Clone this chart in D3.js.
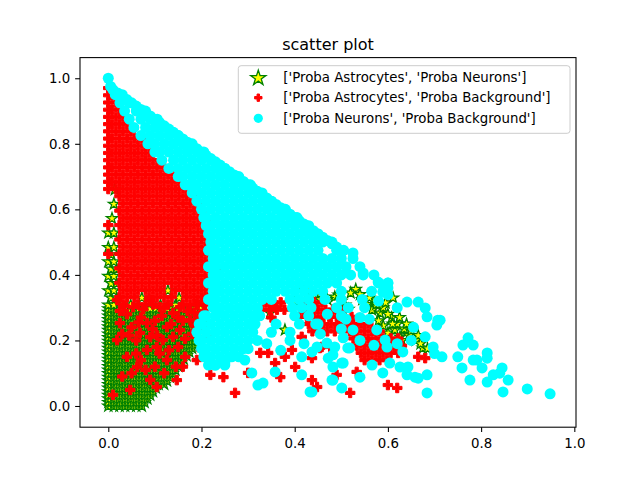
<!DOCTYPE html>
<html lang="en">
<head>
  <meta charset="UTF-8">
  <title>scatter plot</title>
  <script src="https://d3js.org/d3.v7.min.js"></script>
  <style>
    body { margin: 0; background: #fff; }
    text { font-family: "DejaVu Sans", sans-serif; }
  </style>
</head>
<body>
  <div id="chart"></div>

  <script>
    const seriesNames = [
      "['Proba Astrocytes', 'Proba Neurons']",
      "['Proba Astrocytes', 'Proba Background']",
      "['Proba Neurons', 'Proba Background']"
    ];
    const xTicks = [0, 0.2, 0.4, 0.6, 0.8, 1.0];
    const yTicks = [0, 0.2, 0.4, 0.6, 0.8, 1.0];

    // dense parts read row by row: [y, [x, x, ...]]
    const astroNeuronRows = [
      [0, [0, 0.012, 0.024, 0.036, 0.048, 0.06, 0.072]],
      [0.011, [0, 0.006, 0.018, 0.03, 0.042, 0.054, 0.066, 0.078]],
      [0.022, [0, 0.012, 0.024, 0.036, 0.048, 0.06, 0.072, 0.084]],
      [0.033, [0, 0.006, 0.018, 0.03, 0.042, 0.054, 0.066, 0.078, 0.09]],
      [0.044, [0, 0.012, 0.024, 0.036, 0.048, 0.06, 0.072, 0.084, 0.096]],
      [0.055, [0, 0.006, 0.018, 0.03, 0.042, 0.054, 0.066, 0.078, 0.09, 0.102]],
      [0.066, [0, 0.012, 0.024, 0.036, 0.048, 0.06, 0.072, 0.084, 0.096, 0.108, 0.12]],
      [0.077, [0, 0.006, 0.018, 0.03, 0.042, 0.054, 0.066, 0.078, 0.09, 0.102, 0.114, 0.126]],
      [0.088, [0, 0.012, 0.024, 0.036, 0.048, 0.06, 0.072, 0.084, 0.096, 0.108, 0.12, 0.132]],
      [0.099, [0, 0.006, 0.018, 0.03, 0.042, 0.054, 0.066, 0.078, 0.09, 0.102, 0.114, 0.126, 0.138]],
      [0.11, [0, 0.012, 0.024, 0.036, 0.048, 0.06, 0.072, 0.084, 0.096, 0.108, 0.12, 0.132, 0.144]],
      [0.121, [0, 0.006, 0.018, 0.03, 0.042, 0.054, 0.066, 0.078, 0.09, 0.102, 0.114, 0.126, 0.138, 0.15]],
      [0.132, [0, 0.012, 0.024, 0.036, 0.048, 0.06, 0.072, 0.084, 0.096, 0.108, 0.12, 0.132, 0.144, 0.156]],
      [0.143, [0, 0.006, 0.018, 0.03, 0.042, 0.054, 0.066, 0.078, 0.09, 0.102, 0.114, 0.126, 0.138, 0.15, 0.162]],
      [0.154, [0, 0.012, 0.024, 0.036, 0.048, 0.06, 0.072, 0.084, 0.096, 0.108, 0.12, 0.132, 0.144, 0.156, 0.168]],
      [0.165, [0, 0.006, 0.018, 0.03, 0.042, 0.054, 0.066, 0.078, 0.09, 0.102, 0.114, 0.126, 0.138, 0.15, 0.162, 0.174]],
      [0.176, [0, 0.012, 0.024, 0.036, 0.048, 0.06, 0.072, 0.084, 0.096, 0.108, 0.12, 0.132, 0.144, 0.156, 0.168, 0.18]],
      [0.187, [0, 0.006, 0.018, 0.03, 0.042, 0.054, 0.066, 0.078, 0.09, 0.102, 0.114, 0.126, 0.138, 0.15, 0.162, 0.174, 0.186]],
      [0.198, [0, 0.012, 0.024, 0.036, 0.048, 0.06, 0.072, 0.084, 0.096, 0.108, 0.12, 0.132, 0.144, 0.156, 0.168, 0.18, 0.192]],
      [0.209, [0, 0.006, 0.018, 0.03, 0.042, 0.054, 0.066, 0.078, 0.09, 0.102, 0.114, 0.126, 0.138, 0.15, 0.162, 0.174, 0.186]],
      [0.22, [0, 0.012, 0.024, 0.036, 0.048, 0.06, 0.072, 0.084, 0.096, 0.108, 0.12, 0.132, 0.144, 0.156, 0.168, 0.18, 0.192]],
      [0.231, [0, 0.006, 0.018, 0.03, 0.042, 0.054, 0.066, 0.078, 0.09, 0.102, 0.114, 0.126, 0.138, 0.15, 0.162, 0.174, 0.186, 0.198]],
      [0.242, [0, 0.012, 0.024, 0.036, 0.048, 0.06, 0.072, 0.084, 0.096, 0.108, 0.12, 0.132, 0.144, 0.156, 0.168, 0.18, 0.192]],
      [0.253, [0, 0.006, 0.018, 0.03, 0.042, 0.054, 0.066, 0.078, 0.09, 0.102, 0.114, 0.126, 0.138, 0.15, 0.162, 0.174, 0.186, 0.198]],
      [0.264, [0, 0.012, 0.024, 0.036, 0.048, 0.06, 0.072, 0.084, 0.096, 0.108, 0.12, 0.132, 0.144, 0.156, 0.168, 0.18, 0.192]],
      [0.275, [0, 0.006, 0.018, 0.03, 0.042, 0.054, 0.066, 0.078, 0.09, 0.102, 0.114, 0.126, 0.138, 0.15, 0.162, 0.174, 0.186, 0.198]],
      [0.286, [0, 0.012, 0.024, 0.036, 0.048, 0.06, 0.072, 0.084, 0.096, 0.108, 0.12, 0.132, 0.144, 0.156, 0.168, 0.18, 0.192]],
      [0.297, [0, 0.006, 0.018, 0.03, 0.042, 0.054, 0.066, 0.078, 0.09, 0.102, 0.114, 0.126, 0.138, 0.15, 0.162, 0.174, 0.186, 0.198]],
      [0.308, [0, 0.012, 0.048, 0.112, 0.144]],
      [0.33, [0.006, 0.018, 0.072, 0.152]],
      [0.352, [0, 0.012, 0.128]],
      [0.374, [0.006, 0.018]],
      [0.396, [0, 0.012]],
      [0.418, [0.006, 0.018]],
      [0.44, [0, 0.012]],
      [0.462, [0.006]],
      [0.484, [0, 0.012]],
      [0.528, [0, 0.012]],
      [0.572, [0.008]],
      [0.616, [0.012]],
      [0.66, [0.014]]
    ];
    const astroNeuronPoints = [
      [0.531, 0.356], [0.568, 0.299], [0.608, 0.269], [0.611, 0.33], [0.626, 0.211],
      [0.675, 0.177], [0.508, 0.308], [0.6, 0.223], [0.44, 0.339], [0.486, 0.333],
      [0.566, 0.293], [0.583, 0.284], [0.615, 0.232], [0.494, 0.339], [0.379, 0.232],
      [0.347, 0.284], [0.555, 0.31], [0.59, 0.3], [0.62, 0.25], [0.635, 0.235],
      [0.645, 0.215], [0.66, 0.2], [0.59, 0.245], [0.57, 0.32], [0.545, 0.325],
      [0.455, 0.345], [0.47, 0.325], [0.415, 0.36], [0.214, 0.333], [0.202, 0.317],
      [0.23, 0.36], [0.22, 0.39],
      [0.52, 0.345], [0.54, 0.34], [0.56, 0.33], [0.575, 0.31], [0.595, 0.315],
      [0.6, 0.28], [0.625, 0.27], [0.64, 0.25], [0.65, 0.23], [0.665, 0.215],
      [0.67, 0.19], [0.685, 0.175], [0.61, 0.25], [0.58, 0.26], [0.63, 0.2],
      [0.5, 0.32], [0.515, 0.295], [0.455, 0.325], [0.43, 0.35], [0.4, 0.32]
    ];

    const astroBackRows = [
      [0.97, [0]],
      [0.948, [0, 0.008]],
      [0.926, [0, 0.016]],
      [0.904, [0, 0.008, 0.024]],
      [0.882, [0, 0.016, 0.032]],
      [0.86, [0, 0.008, 0.024, 0.04]],
      [0.838, [0, 0.016, 0.032, 0.048]],
      [0.816, [0, 0.008, 0.024, 0.04, 0.056, 0.072]],
      [0.794, [0, 0.016, 0.032, 0.048, 0.064, 0.08]],
      [0.772, [0, 0.008, 0.024, 0.04, 0.056, 0.072, 0.088]],
      [0.75, [0, 0.016, 0.032, 0.048, 0.064, 0.08, 0.096, 0.112]],
      [0.728, [0, 0.008, 0.024, 0.04, 0.056, 0.072, 0.088, 0.104, 0.12]],
      [0.706, [0, 0.016, 0.032, 0.048, 0.064, 0.08, 0.096, 0.112, 0.128, 0.144]],
      [0.684, [0, 0.008, 0.024, 0.04, 0.056, 0.072, 0.088, 0.104, 0.12, 0.136, 0.152]],
      [0.662, [0, 0.016, 0.032, 0.048, 0.064, 0.08, 0.096, 0.112, 0.128, 0.144, 0.16]],
      [0.64, [0.024, 0.04, 0.056, 0.072, 0.088, 0.104, 0.12, 0.136, 0.152, 0.168, 0.184]],
      [0.618, [0.032, 0.048, 0.064, 0.08, 0.096, 0.112, 0.128, 0.144, 0.16, 0.176, 0.192]],
      [0.596, [0.024, 0.04, 0.056, 0.072, 0.088, 0.104, 0.12, 0.136, 0.152, 0.168, 0.184, 0.2]],
      [0.574, [0.032, 0.048, 0.064, 0.08, 0.096, 0.112, 0.128, 0.144, 0.16, 0.176, 0.192, 0.208]],
      [0.552, [0, 0.024, 0.04, 0.056, 0.072, 0.088, 0.104, 0.12, 0.136, 0.152, 0.168, 0.184, 0.2, 0.216]],
      [0.53, [0.032, 0.048, 0.064, 0.08, 0.096, 0.112, 0.128, 0.144, 0.16, 0.176, 0.192, 0.208]],
      [0.508, [0.024, 0.04, 0.056, 0.072, 0.088, 0.104, 0.12, 0.136, 0.152, 0.168, 0.184, 0.2, 0.216]],
      [0.486, [0.032, 0.048, 0.064, 0.08, 0.096, 0.112, 0.128, 0.144, 0.16, 0.176, 0.192, 0.208, 0.224]],
      [0.464, [0, 0.024, 0.04, 0.056, 0.072, 0.088, 0.104, 0.12, 0.136, 0.152, 0.168, 0.184, 0.2, 0.216]],
      [0.442, [0.032, 0.048, 0.064, 0.08, 0.096, 0.112, 0.128, 0.144, 0.16, 0.176, 0.192, 0.208, 0.224]],
      [0.42, [0.024, 0.04, 0.056, 0.072, 0.088, 0.104, 0.12, 0.136, 0.152, 0.168, 0.184, 0.2, 0.216, 0.232]],
      [0.398, [0.032, 0.048, 0.064, 0.08, 0.096, 0.112, 0.128, 0.144, 0.16, 0.176, 0.192, 0.208, 0.224]],
      [0.376, [0.024, 0.04, 0.056, 0.072, 0.088, 0.104, 0.12, 0.136, 0.152, 0.168, 0.184, 0.2, 0.216]],
      [0.354, [0.032, 0.048, 0.064, 0.08, 0.096, 0.112, 0.144, 0.16, 0.176, 0.192, 0.208, 0.224]],
      [0.332, [0.024, 0.04, 0.056, 0.088, 0.104, 0.12, 0.136, 0.168, 0.184, 0.2, 0.216]],
      [0.31, [0.032, 0.064, 0.08, 0.096, 0.128, 0.16, 0.176, 0.192, 0.208]],
      [0.316, [0.338, 0.354, 0.37, 0.426, 0.442, 0.458]],
      [0.294, [0.33, 0.346, 0.362, 0.378, 0.418, 0.434, 0.45, 0.466, 0.482, 0.498]],
      [0.272, [0.41, 0.426, 0.442, 0.458, 0.474, 0.49, 0.506, 0.522]],
      [0.25, [0.43, 0.446, 0.462, 0.478, 0.494, 0.51, 0.526, 0.542, 0.558]],
      [0.228, [0.438, 0.454, 0.47, 0.486, 0.502, 0.518, 0.534, 0.55, 0.566, 0.582]],
      [0.206, [0.526, 0.542, 0.558, 0.574, 0.59, 0.606, 0.622]],
      [0.184, [0.534, 0.55, 0.566, 0.582, 0.598, 0.614, 0.63]],
      [0.162, [0.542, 0.558, 0.574, 0.59, 0.606, 0.622]],
      [0.14, [0.55, 0.566, 0.582, 0.598]]
    ];
    const astroBackPoints = [
      [0.019, 0.323], [0.025, 0.253], [0.019, 0.201], [0.04, 0.15], [0.047, 0.049],
      [0.083, 0.253], [0.111, 0.302], [0.117, 0.201], [0.139, 0.211], [0.154, 0.302],
      [0.104, 0.18], [0.126, 0.14], [0.104, 0.058], [0.062, 0.119], [0.147, 0.079],
      [0.053, 0.302], [0.089, 0.323], [0.068, 0.223], [0.083, 0.171], [0.126, 0.241],
      [0.154, 0.232], [0.176, 0.262], [0.197, 0.272], [0.212, 0.211], [0.01, 0.034],
      [0.139, 0.284], [0.04, 0.28], [0.07, 0.27], [0.1, 0.26], [0.17, 0.29],
      [0.19, 0.31], [0.06, 0.2], [0.09, 0.21], [0.15, 0.18], [0.165, 0.15],
      [0.12, 0.1], [0.08, 0.11], [0.03, 0.09], [0.06, 0.16], [0.18, 0.22],
      [0.2, 0.24], [0.11, 0.16], [0.145, 0.12],
      [0.03, 0.22], [0.05, 0.24], [0.095, 0.235], [0.115, 0.275], [0.16, 0.26],
      [0.185, 0.285], [0.135, 0.25], [0.065, 0.255], [0.035, 0.305], [0.075, 0.295],
      [0.165, 0.205], [0.185, 0.245], [0.205, 0.29], [0.045, 0.215], [0.105, 0.215],
      [0.025, 0.29], [0.12, 0.3], [0.15, 0.27], [0.07, 0.14], [0.1, 0.12],
      [0.13, 0.17], [0.16, 0.12], [0.05, 0.1], [0.09, 0.08],
      [0.219, 0.095], [0.247, 0.088], [0.272, 0.04], [0.3, 0.101], [0.369, 0.088],
      [0.358, 0.131], [0.379, 0.15], [0.401, 0.119], [0.394, 0.171], [0.437, 0.146],
      [0.437, 0.079], [0.448, 0.058], [0.49, 0.095], [0.519, 0.04], [0.458, 0.18],
      [0.415, 0.211], [0.343, 0.162], [0.326, 0.162], [0.533, 0.104], [0.6, 0.064],
      [0.62, 0.055], [0.665, 0.15], [0.68, 0.146], [0.454, 0.177], [0.476, 0.18],
      [0.19, 0.14], [0.2, 0.17], [0.23, 0.3], [0.35, 0.27], [0.36, 0.3]
    ];

    const neuronBackRows = [
      [1.0, [0]],
      [0.975, [0.005]],
      [0.95, [0.015, 0.03]],
      [0.925, [0.025, 0.045]],
      [0.9, [0.035, 0.06, 0.08]],
      [0.875, [0.045, 0.07, 0.09, 0.105]],
      [0.85, [0.055, 0.08, 0.1, 0.12]],
      [0.825, [0.07, 0.09, 0.11, 0.13, 0.15]],
      [0.8, [0.085, 0.1, 0.12, 0.14, 0.16, 0.18]],
      [0.775, [0.1, 0.11, 0.13, 0.15, 0.17, 0.19, 0.205]],
      [0.75, [0.115, 0.14, 0.16, 0.18, 0.2, 0.22]],
      [0.725, [0.13, 0.15, 0.17, 0.19, 0.21, 0.23, 0.25]],
      [0.7, [0.15, 0.16, 0.18, 0.2, 0.22, 0.24, 0.26, 0.28]],
      [0.675, [0.165, 0.175, 0.19, 0.21, 0.23, 0.25, 0.27, 0.29, 0.305]],
      [0.65, [0.18, 0.2, 0.22, 0.24, 0.26, 0.28, 0.3, 0.32, 0.33]],
      [0.625, [0.19, 0.21, 0.23, 0.25, 0.27, 0.29, 0.31, 0.33, 0.35]],
      [0.6, [0.2, 0.22, 0.24, 0.26, 0.28, 0.3, 0.32, 0.34, 0.36, 0.38]],
      [0.575, [0.205, 0.21, 0.23, 0.25, 0.27, 0.29, 0.31, 0.33, 0.35, 0.37, 0.39, 0.405]],
      [0.55, [0.21, 0.22, 0.24, 0.26, 0.28, 0.3, 0.32, 0.34, 0.36, 0.38, 0.4, 0.42, 0.43]],
      [0.525, [0.215, 0.23, 0.25, 0.27, 0.29, 0.31, 0.33, 0.35, 0.37, 0.39, 0.41, 0.43, 0.45]],
      [0.5, [0.22, 0.24, 0.26, 0.28, 0.3, 0.32, 0.34, 0.36, 0.38, 0.4, 0.42, 0.44, 0.46, 0.48]],
      [0.475, [0.215, 0.23, 0.25, 0.27, 0.29, 0.31, 0.33, 0.35, 0.37, 0.39, 0.41, 0.43, 0.45, 0.49, 0.505]],
      [0.45, [0.225, 0.24, 0.26, 0.28, 0.3, 0.32, 0.34, 0.36, 0.38, 0.4, 0.42, 0.44, 0.46, 0.48, 0.5, 0.525]],
      [0.425, [0.215, 0.23, 0.25, 0.27, 0.29, 0.31, 0.33, 0.35, 0.37, 0.39, 0.41, 0.43, 0.45, 0.47, 0.49, 0.51, 0.54]],
      [0.4, [0.225, 0.24, 0.26, 0.28, 0.3, 0.32, 0.34, 0.36, 0.38, 0.4, 0.42, 0.44, 0.46, 0.48, 0.5, 0.52, 0.547, 0.57]],
      [0.375, [0.215, 0.23, 0.25, 0.27, 0.29, 0.31, 0.33, 0.35, 0.37, 0.39, 0.41, 0.43, 0.45, 0.47, 0.49, 0.58, 0.6]],
      [0.35, [0.225, 0.24, 0.26, 0.28, 0.3, 0.32, 0.34, 0.36, 0.38, 0.4, 0.42, 0.44, 0.46, 0.5, 0.59]],
      [0.325, [0.215, 0.23, 0.25, 0.27, 0.29, 0.31, 0.33, 0.35, 0.39, 0.41, 0.43, 0.465, 0.5, 0.545]],
      [0.3, [0.225, 0.24, 0.26, 0.28, 0.3, 0.32, 0.395, 0.415, 0.435, 0.49, 0.515]],
      [0.275, [0.205, 0.21, 0.23, 0.25, 0.27, 0.29, 0.31, 0.325, 0.4, 0.43, 0.5]],
      [0.25, [0.195, 0.2, 0.22, 0.24, 0.26, 0.28, 0.3, 0.315, 0.36, 0.41, 0.45]],
      [0.225, [0.19, 0.21, 0.23, 0.25, 0.27, 0.29, 0.31, 0.35, 0.39]],
      [0.2, [0.195, 0.2, 0.22, 0.24, 0.26, 0.28, 0.3, 0.32]],
      [0.175, [0.2, 0.21, 0.23, 0.25, 0.27, 0.29, 0.3]],
      [0.15, [0.205, 0.22, 0.24, 0.26, 0.28]],
      [0.125, [0.215, 0.23, 0.25]]
    ];
    const neuronBackPoints = [
      // points along the upper edge, where the two probabilities nearly sum to one
      [0.01, 0.965], [0.02, 0.955], [0.03, 0.945], [0.04, 0.935], [0.05, 0.925],
      [0.06, 0.915], [0.07, 0.905], [0.08, 0.895], [0.09, 0.885], [0.1, 0.875],
      [0.11, 0.865], [0.12, 0.855], [0.13, 0.845], [0.14, 0.835], [0.15, 0.825],
      [0.16, 0.815], [0.17, 0.805], [0.18, 0.795], [0.19, 0.785], [0.2, 0.775],
      [0.21, 0.765], [0.22, 0.755], [0.23, 0.745], [0.24, 0.735], [0.25, 0.725],
      [0.26, 0.715], [0.27, 0.705], [0.28, 0.695], [0.29, 0.685], [0.3, 0.675],
      [0.31, 0.665], [0.32, 0.655], [0.33, 0.645], [0.34, 0.635], [0.35, 0.625],
      [0.36, 0.615], [0.37, 0.605], [0.38, 0.595], [0.39, 0.585], [0.4, 0.575],
      [0.41, 0.565], [0.42, 0.555], [0.43, 0.545], [0.44, 0.535], [0.45, 0.525],
      [0.46, 0.515], [0.47, 0.505], [0.48, 0.495], [0.49, 0.485], [0.5, 0.47],
      [0.525, 0.467], [0.547, 0.406], [0.579, 0.378], [0.6, 0.375], [0.589, 0.348],
      [0.641, 0.317], [0.665, 0.317], [0.68, 0.299], [0.684, 0.272], [0.712, 0.262],
      [0.705, 0.247], [0.68, 0.211], [0.697, 0.18], [0.716, 0.15], [0.684, 0.095],
      [0.684, 0.04], [0.665, 0.085], [0.641, 0.095], [0.626, 0.119], [0.604, 0.131],
      [0.589, 0.101], [0.566, 0.125], [0.54, 0.088], [0.504, 0.131], [0.482, 0.079],
      [0.501, 0.055], [0.437, 0.043], [0.415, 0.095], [0.415, 0.15], [0.448, 0.18],
      [0.486, 0.18], [0.482, 0.156], [0.518, 0.177], [0.525, 0.232], [0.576, 0.232],
      [0.594, 0.201], [0.598, 0.18], [0.632, 0.165], [0.643, 0.119], [0.658, 0.088],
      [0.707, 0.262],
      [0.761, 0.186], [0.772, 0.208], [0.783, 0.186], [0.75, 0.15], [0.783, 0.14],
      [0.759, 0.116], [0.791, 0.14], [0.813, 0.162], [0.813, 0.146], [0.802, 0.116],
      [0.776, 0.079], [0.813, 0.073], [0.826, 0.095], [0.845, 0.116], [0.84, 0.1],
      [0.858, 0.079], [0.847, 0.043], [0.899, 0.052], [0.948, 0.037],
      [0.321, 0.064], [0.332, 0.07], [0.308, 0.101], [0.358, 0.104], [0.433, 0.043],
      [0.437, 0.165], [0.472, 0.146], [0.482, 0.119], [0.48, 0.079], [0.501, 0.131],
      [0.514, 0.177], [0.504, 0.208], [0.469, 0.192], [0.25, 0.131], [0.229, 0.125],
      [0.265, 0.15], [0.293, 0.14],
      [0.47, 0.28], [0.51, 0.265], [0.54, 0.27], [0.56, 0.265], [0.55, 0.3],
      [0.58, 0.32], [0.6, 0.34], [0.62, 0.3], [0.445, 0.25], [0.455, 0.22],
      [0.5, 0.235], [0.54, 0.2], [0.57, 0.185], [0.62, 0.19], [0.65, 0.2],
      [0.655, 0.24], [0.7, 0.16], [0.6, 0.36], [0.565, 0.35], [0.39, 0.2],
      [0.37, 0.17], [0.34, 0.19], [0.42, 0.19]
    ];

    const expand = (rows, pts) => rows.flatMap(([y, xs]) => xs.map(x => [x, y])).concat(pts);
    const astroNeuron = expand(astroNeuronRows, astroNeuronPoints);
    const astroBack = expand(astroBackRows, astroBackPoints);
    const neuronBack = expand(neuronBackRows, neuronBackPoints);

    const width = 640, height = 480;
    const margin = {top: 57.6, right: 64, bottom: 52.8, left: 80};
    const plotW = width - margin.left - margin.right;
    const plotH = height - margin.top - margin.bottom;

    const svg = d3.select("#chart")
      .append("svg")
      .attr("width", width)
      .attr("height", height);

    svg.append("rect").attr("width", width).attr("height", height).attr("fill", "#fff");

    const g = svg.append("g")
      .attr("transform", `translate(${margin.left},${margin.top})`);

    const x = d3.scaleLinear().domain([-0.0607, 1.0036]).range([0, plotW]);
    const y = d3.scaleLinear().domain([-0.0647, 1.063]).range([plotH, 0]);

    g.append("clipPath").attr("id", "plotclip")
      .append("rect").attr("width", plotW).attr("height", plotH);

    const marks = g.append("g").attr("clip-path", "url(#plotclip)");

    const starPath = d3.symbol().type(d3.symbolStar).size(39)();
    const crossPath = d3.symbol().type(d3.symbolCross).size(50)();

    marks.append("g").selectAll("path")
      .data(astroNeuron)
      .join("path")
      .attr("d", starPath)
      .attr("transform", d => `translate(${x(d[0])},${y(d[1])})`)
      .attr("fill", "yellow")
      .attr("stroke", "green")
      .attr("stroke-width", 1.25);

    marks.append("g").selectAll("path")
      .data(astroBack)
      .join("path")
      .attr("d", crossPath)
      .attr("transform", d => `translate(${x(d[0])},${y(d[1])})`)
      .attr("fill", "red")
      .attr("stroke", "red")
      .attr("stroke-width", 1);

    marks.append("g").selectAll("circle")
      .data(neuronBack)
      .join("circle")
      .attr("cx", d => x(d[0]))
      .attr("cy", d => y(d[1]))
      .attr("r", 5.5)
      .attr("fill", "cyan");

    const tick = 4.86;

    const xAxis = g.append("g")
      .attr("transform", `translate(0,${plotH})`)
      .call(d3.axisBottom(x).tickValues(xTicks).tickFormat(d3.format(".1f"))
        .tickSize(tick).tickPadding(tick));
    xAxis.selectAll("text").attr("dy", "0.81em");

    const yAxis = g.append("g")
      .call(d3.axisLeft(y).tickValues(yTicks).tickFormat(d3.format(".1f"))
        .tickSize(tick).tickPadding(tick));

    [xAxis, yAxis].forEach(a => {
      a.select(".domain").remove();
      a.selectAll("line").attr("stroke", "#000").attr("stroke-width", 1.07);
      a.selectAll("text")
        .attr("fill", "#000")
        .style("font-family", "'DejaVu Sans', sans-serif")
        .style("font-size", "13.33px");
    });

    g.append("rect")
      .attr("width", plotW)
      .attr("height", plotH)
      .attr("fill", "none")
      .attr("stroke", "#000")
      .attr("stroke-width", 1.07);

    svg.append("text")
      .attr("x", margin.left + plotW / 2)
      .attr("y", 49.6)
      .attr("text-anchor", "middle")
      .style("font-size", "16px")
      .text("scatter plot");

    // legend
    const legend = svg.append("g").attr("transform", "translate(238.3,65.7)");
    legend.append("rect")
      .attr("width", 331.7)
      .attr("height", 67.6)
      .attr("rx", 2.8)
      .attr("fill", "#fff")
      .attr("fill-opacity", 0.8)
      .attr("stroke", "#cccccc")
      .attr("stroke-width", 1);

    const rowsY = [11.6, 32, 52.6];

    legend.append("path")
      .attr("d", d3.symbol().type(d3.symbolStar).size(72)())
      .attr("transform", `translate(20,${rowsY[0] + 0.8})`)
      .attr("fill", "yellow")
      .attr("stroke", "green")
      .attr("stroke-width", 1.3);
    legend.append("path")
      .attr("d", d3.symbol().type(d3.symbolCross).size(30)())
      .attr("transform", `translate(20,${rowsY[1]})`)
      .attr("fill", "red")
      .attr("stroke", "red")
      .attr("stroke-width", 1);
    legend.append("circle")
      .attr("cx", 20)
      .attr("cy", rowsY[2])
      .attr("r", 4.6)
      .attr("fill", "cyan");

    legend.selectAll("text.lbl")
      .data(seriesNames)
      .join("text")
      .attr("class", "lbl")
      .attr("x", 45)
      .attr("y", (d, i) => rowsY[i])
      .attr("dy", "0.36em")
      .style("font-size", "13.33px")
      .text(d => d);
  </script>
</body>
</html>
